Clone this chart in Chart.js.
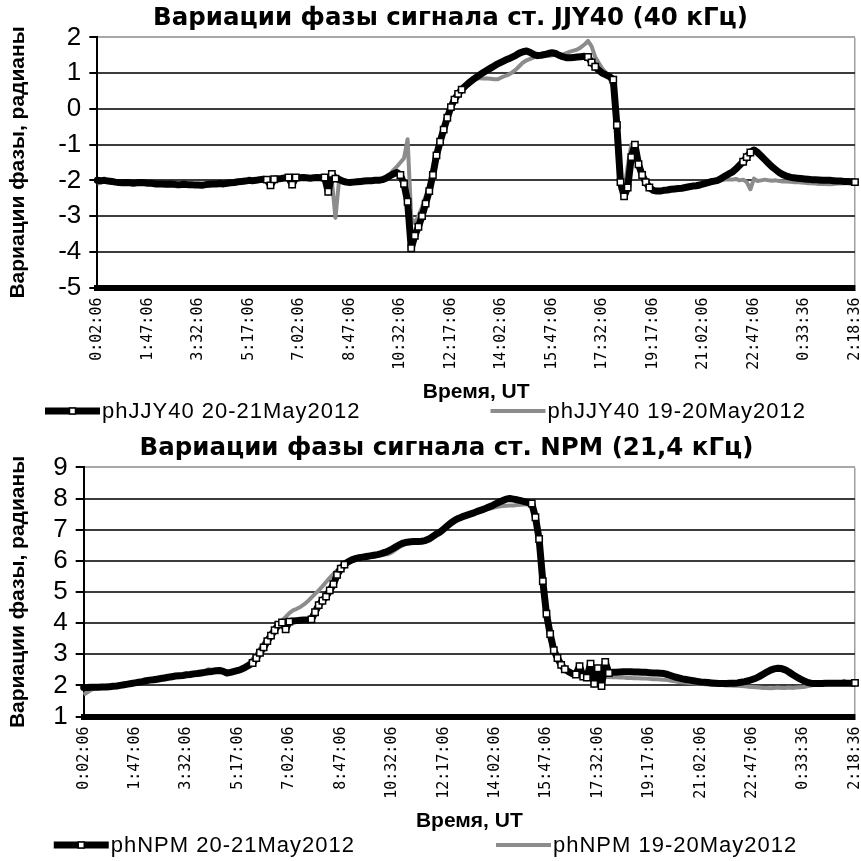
<!DOCTYPE html>
<html lang="ru">
<head>
<meta charset="utf-8">
<title>Вариации фазы сигнала</title>
<script src="https://cdn.jsdelivr.net/npm/chart.js@4.4.1/dist/chart.umd.min.js"></script>
<style>
  html, body { margin: 0; padding: 0; background: #fff; }
  .box { position: relative; width: 861px; }
  #box1 { height: 430px; }
  #box2 { height: 431px; }
</style>
</head>
<body>
<div class="box" id="box1"><canvas id="chartJJY"></canvas></div>
<div class="box" id="box2"><canvas id="chartNPM"></canvas></div>
<script>
// --- ДАННЫЕ (шаг 7,5 мин, подпись оси на каждой 14-й точке) ---

const tickLabels = [
  "0:02:06", "1:47:06", "3:32:06", "5:17:06", "7:02:06", "8:47:06",
  "10:32:06", "12:17:06", "14:02:06", "15:47:06", "17:32:06", "19:17:06",
  "21:02:06", "22:47:06", "0:33:36", "2:18:36",
];
const stepsPerTick = 14;

// JJY40, 20-21 мая 2012
const jjy2021 = [
  -2.00, -2.01, -2.00, -2.02, -2.03, -2.05, -2.06, -2.07, -2.06, -2.07,
  -2.08, -2.07, -2.06, -2.07, -2.08, -2.08, -2.10, -2.10, -2.10, -2.11,
  -2.10, -2.11, -2.12, -2.12, -2.11, -2.12, -2.12, -2.13, -2.13, -2.14,
  -2.12, -2.11, -2.10, -2.10, -2.09, -2.10, -2.08, -2.07, -2.06, -2.04,
  -2.03, -2.02, -2.00, -2.01, -2.00, -1.98, -1.97, -1.98, -2.14, -1.97,
  -1.96, -1.95, -1.93, -1.92, -2.12, -1.92, -1.93, -1.92, -1.93, -1.94,
  -1.93, -1.92, -1.93, -1.92, -2.32, -1.82, -1.95, -1.97, -2.02, -2.05,
  -2.06, -2.05, -2.04, -2.03, -2.02, -2.01, -2.01, -2.00, -2.00, -1.98,
  -1.94, -1.88, -1.82, -1.78, -1.85, -2.10, -2.60, -3.90, -3.55, -3.30,
  -3.00, -2.65, -2.30, -1.85, -1.30, -0.92, -0.58, -0.25, 0.05, 0.26,
  0.42, 0.54, 0.64, 0.73, 0.81, 0.88, 0.95, 1.02, 1.08, 1.14,
  1.20, 1.26, 1.31, 1.36, 1.40, 1.45, 1.50, 1.56, 1.60, 1.62,
  1.58, 1.52, 1.49, 1.50, 1.52, 1.55, 1.57, 1.55, 1.50, 1.46,
  1.43, 1.43, 1.44, 1.45, 1.46, 1.47, 1.45, 1.30, 1.18, 1.08,
  1.00, 0.95, 0.90, 0.82, -0.45, -2.05, -2.45, -2.20, -1.35, -1.00,
  -1.55, -1.85, -2.05, -2.20, -2.28, -2.30, -2.30, -2.28, -2.27, -2.25,
  -2.24, -2.23, -2.22, -2.20, -2.18, -2.16, -2.15, -2.13, -2.10, -2.07,
  -2.04, -2.02, -2.00, -1.94, -1.88, -1.82, -1.77, -1.68, -1.58, -1.48,
  -1.35, -1.22, -1.15, -1.22, -1.32, -1.42, -1.52, -1.62, -1.70, -1.78,
  -1.84, -1.88, -1.91, -1.93, -1.94, -1.95, -1.96, -1.97, -1.98, -1.98,
  -1.99, -2.00, -2.00, -2.00, -2.01, -2.02, -2.02, -2.03, -2.03, -2.04, -2.05,
];

// JJY40, 19-20 мая 2012
const jjy1920 = [
  -2.10, -2.06, -2.03, -2.03, -2.04, -2.06, -2.07, -2.08, -2.07, -2.08,
  -2.08, -2.08, -2.07, -2.08, -2.09, -2.09, -2.10, -2.11, -2.11, -2.12,
  -2.11, -2.12, -2.12, -2.13, -2.12, -2.12, -2.13, -2.14, -2.14, -2.14,
  -2.13, -2.12, -2.11, -2.10, -2.10, -2.10, -2.09, -2.08, -2.07, -2.05,
  -2.04, -2.03, -2.01, -2.01, -2.00, -1.99, -1.98, -1.98, -1.98, -1.97,
  -1.96, -1.95, -1.94, -1.93, -1.93, -1.93, -1.94, -1.93, -1.94, -1.95,
  -1.94, -1.93, -1.94, -1.95, -1.96, -2.00, -3.05, -2.00, -2.03, -2.05,
  -2.06, -2.05, -2.04, -2.03, -2.02, -2.01, -2.01, -2.00, -1.99, -1.96,
  -1.92, -1.85, -1.72, -1.62, -1.50, -1.38, -0.85, -3.05, -3.20, -3.00,
  -2.75, -2.45, -2.15, -1.75, -1.30, -0.92, -0.58, -0.25, 0.05, 0.26,
  0.42, 0.54, 0.64, 0.73, 0.80, 0.84, 0.86, 0.85, 0.85, 0.84,
  0.83, 0.83, 0.88, 0.92, 0.96, 1.02, 1.10, 1.20, 1.30, 1.36,
  1.40, 1.44, 1.47, 1.50, 1.50, 1.48, 1.50, 1.52, 1.50, 1.52,
  1.56, 1.60, 1.63, 1.66, 1.72, 1.80, 1.90, 1.75, 1.45, 1.28,
  1.12, 1.00, 0.85, 0.60, -1.00, -2.25, -2.30, -1.60, -1.00, -1.25,
  -1.65, -1.95, -2.12, -2.24, -2.30, -2.31, -2.30, -2.30, -2.28, -2.27,
  -2.26, -2.25, -2.24, -2.22, -2.20, -2.19, -2.17, -2.15, -2.12, -2.09,
  -2.07, -2.05, -2.03, -2.00, -1.98, -1.97, -1.98, -1.96, -2.00, -1.98,
  -2.05, -2.25, -1.95, -2.02, -2.00, -1.98, -2.00, -2.01, -2.00, -2.02,
  -2.03, -2.03, -2.04, -2.05, -2.05, -2.06, -2.07, -2.08, -2.08, -2.09,
  -2.10, -2.10, -2.10, -2.11, -2.10, -2.09, -2.09, -2.08, -2.08, -2.08, -2.08,
];

// NPM, 20-21 мая 2012
const npm2021 = [
  1.93, 1.93, 1.94, 1.94, 1.94, 1.95, 1.95, 1.96, 1.97, 1.98,
  2.00, 2.02, 2.04, 2.06, 2.08, 2.10, 2.12, 2.15, 2.17, 2.18,
  2.20, 2.22, 2.24, 2.26, 2.28, 2.30, 2.31, 2.32, 2.34, 2.35,
  2.37, 2.38, 2.40, 2.42, 2.44, 2.45, 2.47, 2.48, 2.45, 2.40,
  2.42, 2.45, 2.48, 2.52, 2.58, 2.65, 2.72, 2.88, 3.05, 3.22,
  3.42, 3.60, 3.77, 3.95, 4.02, 3.80, 4.05, 4.07, 4.08, 4.09,
  4.10, 4.10, 4.12, 4.35, 4.58, 4.72, 4.85, 5.05, 5.25, 5.55,
  5.75, 5.88, 5.97, 6.03, 6.07, 6.10, 6.12, 6.14, 6.16, 6.18,
  6.20, 6.23, 6.27, 6.32, 6.38, 6.45, 6.52, 6.57, 6.60, 6.61,
  6.62, 6.62, 6.63, 6.65, 6.70, 6.78, 6.86, 6.92, 7.02, 7.12,
  7.22, 7.30, 7.36, 7.41, 7.45, 7.49, 7.53, 7.58, 7.62, 7.66,
  7.71, 7.76, 7.82, 7.88, 7.93, 7.98, 8.00, 7.98, 7.96, 7.93,
  7.90, 7.87, 7.84, 7.40, 6.70, 5.35, 4.30, 3.65, 3.13, 2.88,
  2.66, 2.52, 2.44, 2.38, 2.35, 2.62, 2.28, 2.25, 2.70, 2.05,
  2.55, 1.98, 2.75, 2.40, 2.42, 2.42, 2.43, 2.44, 2.44, 2.44,
  2.43, 2.43, 2.42, 2.42, 2.41, 2.40, 2.40, 2.39, 2.38, 2.35,
  2.31, 2.27, 2.24, 2.21, 2.19, 2.17, 2.15, 2.13, 2.11, 2.10,
  2.09, 2.08, 2.07, 2.06, 2.06, 2.06, 2.07, 2.07, 2.08, 2.10,
  2.12, 2.15, 2.19, 2.23, 2.29, 2.36, 2.43, 2.49, 2.53, 2.55,
  2.54, 2.50, 2.43, 2.35, 2.28, 2.21, 2.15, 2.10, 2.07, 2.06,
  2.06, 2.06, 2.07, 2.07, 2.07, 2.07, 2.07, 2.07, 2.07, 2.07, 2.08,
];

// NPM, 19-20 мая 2012
const npm1920 = [
  1.70, 1.78, 1.86, 1.90, 1.92, 1.94, 1.95, 1.97, 1.98, 1.99,
  2.01, 2.03, 2.05, 2.07, 2.09, 2.11, 2.13, 2.15, 2.17, 2.19,
  2.21, 2.22, 2.24, 2.26, 2.28, 2.30, 2.32, 2.33, 2.35, 2.37,
  2.39, 2.41, 2.43, 2.46, 2.52, 2.50, 2.48, 2.47, 2.46, 2.45,
  2.45, 2.47, 2.50, 2.55, 2.62, 2.72, 2.85, 3.00, 3.18, 3.35,
  3.52, 3.68, 3.82, 3.95, 4.08, 4.20, 4.32, 4.41, 4.46, 4.52,
  4.60, 4.70, 4.82, 4.94, 5.05, 5.18, 5.32, 5.45, 5.58, 5.70,
  5.80, 5.88, 5.94, 5.99, 6.03, 6.06, 6.08, 6.10, 6.12, 6.14,
  6.16, 6.18, 6.20, 6.22, 6.28, 6.36, 6.45, 6.50, 6.55, 6.58,
  6.60, 6.61, 6.62, 6.64, 6.68, 6.76, 6.84, 6.92, 7.00, 7.10,
  7.20, 7.28, 7.34, 7.39, 7.43, 7.47, 7.51, 7.55, 7.59, 7.63,
  7.66, 7.69, 7.72, 7.74, 7.76, 7.77, 7.78, 7.78, 7.79, 7.80,
  7.81, 7.82, 7.80, 7.35, 6.60, 5.30, 4.25, 3.60, 3.10, 2.85,
  2.64, 2.50, 2.42, 2.36, 2.33, 2.31, 2.30, 2.30, 2.29, 2.29,
  2.28, 2.28, 2.27, 2.27, 2.26, 2.26, 2.25, 2.25, 2.24, 2.24,
  2.23, 2.23, 2.22, 2.22, 2.21, 2.20, 2.20, 2.19, 2.18, 2.17,
  2.15, 2.13, 2.11, 2.10, 2.09, 2.08, 2.07, 2.06, 2.05, 2.04,
  2.03, 2.02, 2.02, 2.01, 2.01, 2.00, 2.00, 1.99, 1.99, 1.98,
  1.97, 1.96, 1.95, 1.94, 1.93, 1.92, 1.92, 1.91, 1.92, 1.93,
  1.92, 1.92, 1.93, 1.92, 1.93, 1.94, 1.95, 1.97, 2.00, 2.02,
  2.03, 2.04, 2.04, 2.05, 2.05, 2.05, 2.06, 2.15, 2.08, 2.07, 2.08,
];

// --- ПЛАГИНЫ ---

// маркер (квадрат) виден только там, где соседние точки далеко по вертикали
function markerRadius(c) {
  if (c.type !== "data") return 0;
  const data = c.dataset.data;
  const i = c.dataIndex;
  if (i === data.length - 1) return 4.5;
  const y = c.chart.scales.y;
  const p = y.getPixelForValue(data[i]);
  let jump = 0;
  if (i > 0) jump = Math.max(jump, Math.abs(y.getPixelForValue(data[i - 1]) - p));
  if (i < data.length - 1) jump = Math.max(jump, Math.abs(y.getPixelForValue(data[i + 1]) - p));
  return jump > 4 ? 4.5 : 0;
}

// заголовок в Excel стоит чуть правее центра
const shiftTitle = {
  id: "shiftTitle",
  afterLayout(chart, args, opts) {
    if (chart.titleBlock) chart.titleBlock.left += opts.dx * 2;
  },
};

// легенда в стиле Excel: образец линии + подпись
const sampleLegend = {
  id: "sampleLegend",
  afterDraw(chart, args, opts) {
    const ctx = chart.ctx;
    const sets = chart.data.datasets;
    const lineLen = 55;
    ctx.save();
    ctx.font = '22px "Liberation Sans", Arial, sans-serif';
    ctx.letterSpacing = "1px";
    ctx.textBaseline = "middle";
    const widths = sets.map((s) => ctx.measureText(s.label).width);
    const total =
      widths.reduce((sum, w) => sum + lineLen + 2 + w, 0) + opts.gap * (sets.length - 1);
    let x = (chart.width - total) / 2 - 5;
    const y = opts.y;
    sets.forEach((s, i) => {
      ctx.strokeStyle = s.borderColor;
      ctx.lineWidth = s.borderWidth;
      ctx.beginPath();
      ctx.moveTo(x, y);
      ctx.lineTo(x + lineLen, y);
      ctx.stroke();
      if (s.pointStyle === "rect") {
        ctx.fillStyle = "#fff";
        ctx.strokeStyle = "#000";
        ctx.lineWidth = 1.5;
        ctx.fillRect(x + lineLen / 2 - 3, y - 3, 6, 6);
        ctx.strokeRect(x + lineLen / 2 - 3, y - 3, 6, 6);
      }
      ctx.fillStyle = "#000";
      ctx.fillText(s.label, x + lineLen + 2, y + 1);
      x += lineLen + 2 + widths[i] + opts.gap;
    });
    ctx.restore();
  },
};

// --- ГРАФИК ---

function buildChart(canvasId, opt) {
  const labels = opt.series[0].map((v, i) =>
    i % stepsPerTick === 0 ? tickLabels[i / stepsPerTick] : ""
  );
  const last = labels.length - 1;

  return new Chart(document.getElementById(canvasId), {
    type: "line",
    data: {
      labels: labels,
      datasets: [
        {
          label: opt.names[0],
          data: opt.series[0],
          borderColor: "#000",
          backgroundColor: "#000",
          borderWidth: 7,
          borderJoinStyle: "round",
          borderCapStyle: "round",
          pointStyle: "rect",
          pointRadius: markerRadius,
          pointHoverRadius: 0,
          pointBackgroundColor: "#fff",
          pointBorderColor: "#000",
          pointBorderWidth: 1.5,
          tension: 0,
          order: 0,
        },
        {
          label: opt.names[1],
          data: opt.series[1],
          borderColor: "#8c8c8c",
          backgroundColor: "#8c8c8c",
          borderWidth: 4,
          borderJoinStyle: "round",
          pointRadius: 0,
          pointHoverRadius: 0,
          tension: 0,
          order: 1,
        },
      ],
    },
    options: {
      responsive: true,
      maintainAspectRatio: false,
      animation: false,
      layout: { padding: { left: 2, right: 0, top: 0, bottom: opt.legendSpace } },
      plugins: {
        legend: { display: false },
        tooltip: { enabled: false },
        title: {
          display: true,
          text: opt.title,
          color: "#000",
          font: { family: "DejaVu Sans", size: 24.5, weight: "bold" },
          padding: { top: 4, bottom: 4 },
        },
        shiftTitle: { dx: opt.titleShift },
        sampleLegend: { y: opt.legendY, gap: opt.legendGap },
      },
      scales: {
        x: {
          // последняя подпись почти у края холста, как в Excel
          afterFit: (scale) => {
            scale.paddingRight = 4;
          },
          ticks: {
            autoSkip: false,
            minRotation: 90,
            maxRotation: 90,
            padding: 10,
            color: "#000",
            font: { family: "DejaVu Sans Mono", size: 15 },
          },
          grid: {
            drawTicks: false,
            lineWidth: 1.5,
            color: (c) => (c.index === last ? "#a0a0a0" : "rgba(0,0,0,0)"),
          },
          border: { color: "#000", width: 6 },
          title: {
            display: true,
            text: "Время, UT",
            color: "#000",
            font: { family: "Liberation Sans", size: 21, weight: "bold" },
            padding: { top: 0, bottom: 0 },
          },
        },
        y: {
          min: opt.min,
          max: opt.max,
          ticks: {
            stepSize: 1,
            autoSkip: false,
            padding: 8,
            color: "#000",
            font: { family: "Liberation Sans", size: 26 },
          },
          grid: {
            lineWidth: 2,
            color: (c) => (c.tick && c.tick.value === opt.max ? "#a8a8a8" : "#3c3c3c"),
            tickColor: "#000",
            tickLength: 8,
            tickWidth: 2,
          },
          border: { color: "#000", width: 2 },
          title: {
            display: true,
            text: "Вариации фазы, радианы",
            color: "#000",
            font: { family: "Liberation Sans", size: 21, weight: "bold" },
            padding: { top: 4, bottom: opt.titleGap },
          },
        },
      },
    },
    plugins: [shiftTitle, sampleLegend],
  });
}

buildChart("chartJJY", {
  title: "Вариации фазы сигнала ст. JJY40 (40 кГц)",
  names: ["phJJY40 20-21May2012", "phJJY40 19-20May2012"],
  series: [jjy2021, jjy1920],
  min: -5,
  max: 2,
  titleShift: 19,
  titleGap: 19,
  legendSpace: 25,
  legendY: 411,
  legendGap: 130,
});

buildChart("chartNPM", {
  title: "Вариации фазы сигнала ст. NPM (21,4 кГц)",
  names: ["phNPM 20-21May2012", "phNPM 19-20May2012"],
  series: [npm2021, npm1920],
  min: 1,
  max: 9,
  titleShift: 15,
  titleGap: 14,
  legendSpace: 27,
  legendY: 415,
  legendGap: 141,
});
</script>
</body>
</html>
